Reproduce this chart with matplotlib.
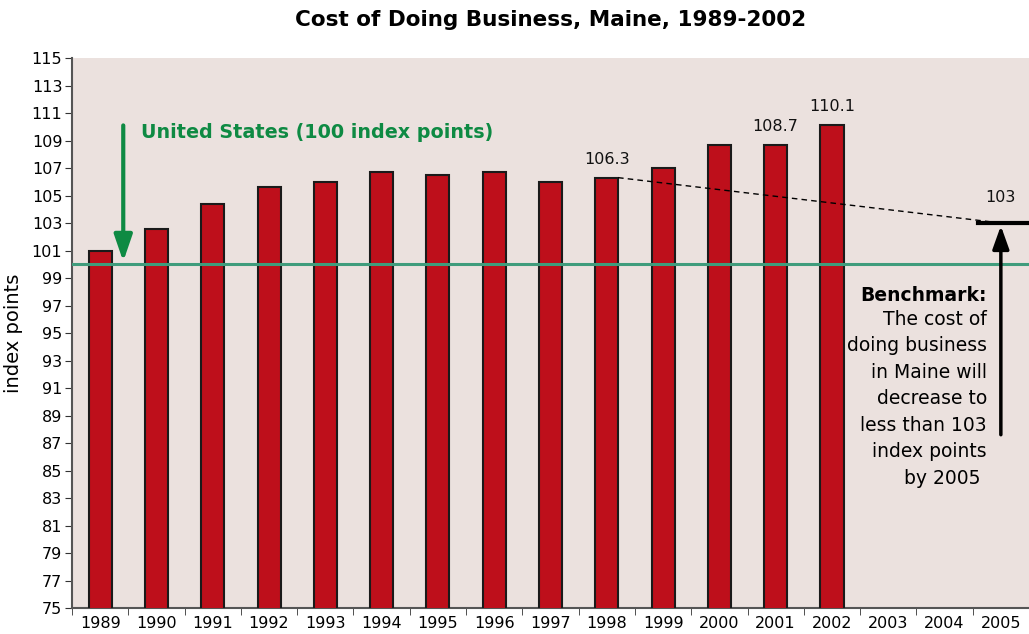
import matplotlib.pyplot as plt
import numpy as np

# years on the axis (bars only through 2002)
years = [str(y) for y in range(1989, 2006)]
bar_years = [str(y) for y in range(1989, 2003)]
cost_index = [101.0, 102.6, 104.4, 105.6, 106.0, 106.7, 106.5, 106.7, 106.0, 106.3,
              107.0, 108.7, 108.7, 110.1]
labelled = {"1998": "106.3", "2001": "108.7", "2002": "110.1"}
us_level = 100
benchmark = 103
yticks = list(range(75, 116, 2))

fig = plt.figure(figsize=(10.29, 6.34), dpi=100)
ax = fig.add_axes([0.07, 0.041, 0.93, 0.8675])
ax.set_facecolor("#ebe1de")

x = np.arange(len(years))
xb = np.arange(len(bar_years))
ax.bar(xb, cost_index, width=0.41, color="#be0f1b", edgecolor="#1a1a1a", linewidth=1.5, zorder=3)

for i, yr in enumerate(bar_years):
    if yr in labelled:
        ax.annotate(labelled[yr], (i, cost_index[i]), xytext=(0, 8), textcoords="offset points",
                    ha="center", va="bottom", fontsize=11.5, color="#111111", zorder=5)

# US reference line + green arrow
ax.axhline(us_level, color="#3f9c7c", lw=2.2, zorder=4)
ax.annotate("", xy=(0.41, us_level), xytext=(0.41, 110.3),
            arrowprops=dict(arrowstyle="-|>,head_width=0.55,head_length=1.6", color="#0e8a43", lw=3),
            zorder=5)
ax.text(0.72, 109.6, "United States (100 index points)", color="#0e8a43", fontsize=13.8,
        fontweight="bold", va="center", ha="left", zorder=5)

# dashed trend towards benchmark
i98 = bar_years.index("1998")
i05 = years.index("2005")
ax.plot([i98 + 0.2, i05], [cost_index[i98], benchmark], ls=(0, (4, 3)), color="black", lw=1, zorder=4)
ax.plot([i05 - 0.4, i05 + 0.6], [benchmark, benchmark], color="black", lw=3, zorder=4, clip_on=False)
ax.annotate("", xy=(i05, benchmark), xytext=(i05, 87.4),
            arrowprops=dict(arrowstyle="-|>,head_width=0.5,head_length=1.4", color="black", lw=2.5),
            zorder=5)
ax.text(i05, benchmark + 1.3, "103", ha="center", va="bottom", fontsize=11.5, color="#111111")

ax.text(15.75, 97.7, "Benchmark:", ha="right", va="center", fontsize=13.5, fontweight="bold", color="black")
ax.text(15.75, 96.7, "The cost of\ndoing business\nin Maine will\ndecrease to\nless than 103\nindex points\nby 2005 ",
        ha="right", va="top", fontsize=13.5, color="black", linespacing=1.5, multialignment="right")

ax.set_xlim(-0.5, len(years) - 0.5)
ax.set_ylim(75, 115)
ax.set_yticks(yticks)
ax.set_yticklabels([str(v) for v in yticks], fontsize=11.5)
ax.set_xticks(x)
ax.set_xticklabels(years, fontsize=11.5)
ax.set_xticks(np.arange(-0.5, len(years), 1), minor=True)
ax.tick_params(axis="x", which="major", length=0, pad=6)
ax.tick_params(axis="x", which="minor", length=5, color="#333333")
ax.tick_params(axis="y", length=5, color="#333333", pad=2)

for s in ["top", "right"]:
    ax.spines[s].set_visible(False)
for s in ["left", "bottom"]:
    ax.spines[s].set_color("#555555")
    ax.spines[s].set_linewidth(1.5)

ax.set_ylabel("index points", fontsize=14, labelpad=6)
fig.suptitle("Cost of Doing Business, Maine, 1989-2002", x=0.535, y=0.985, fontsize=15.5, fontweight="bold")

fig.savefig("out.png", dpi=100)
